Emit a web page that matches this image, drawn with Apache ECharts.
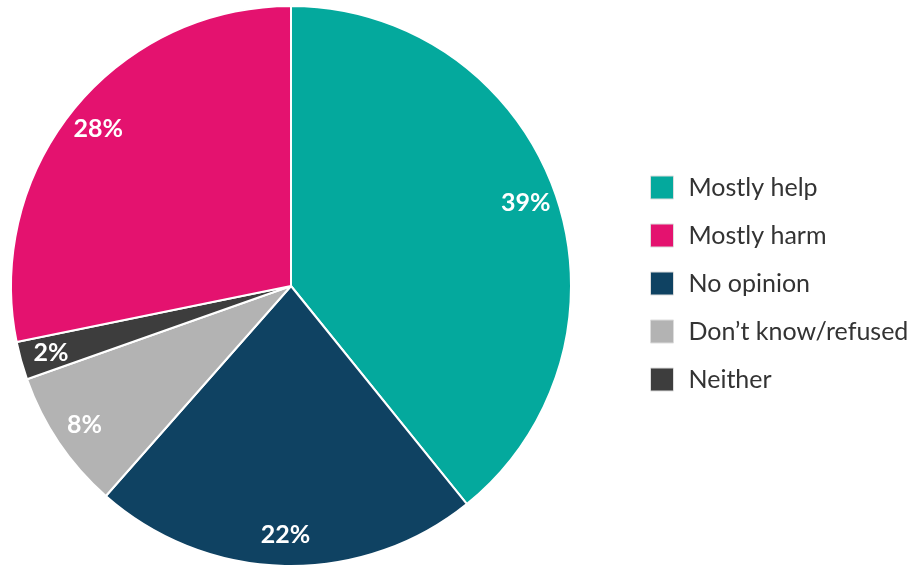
<!DOCTYPE html>
<html>
<head>
<meta charset="utf-8">
<script src="https://cdn.jsdelivr.net/npm/echarts@6/dist/echarts.min.js"></script>
<style>
html,body{margin:0;padding:0;background:#fff;}
#chart{width:917px;height:567px;}
</style>
</head>
<body>
<div id="chart"></div>
<script>
var categories = ['Mostly help', 'No opinion', "Don\u2019t know/refused", 'Neither', 'Mostly harm'];
var values = [39.2, 22.3, 8.1, 2.2, 28.2];
var colors = ['#04a99d', '#0f4262', '#b3b3b3', '#3d3d3d', '#e4126f'];
var legendOrder = ['Mostly help', 'Mostly harm', 'No opinion', "Don\u2019t know/refused", 'Neither'];

var font = 'Lato';
var data = categories.map(function (c, i) {
  return { name: c, value: values[i], itemStyle: { color: colors[i] } };
});
var labelData = categories.map(function (c, i) {
  return { name: c, value: values[i] };
});

var chart = echarts.init(document.getElementById('chart'));
chart.setOption({
  animation: false,
  legend: {
    orient: 'vertical',
    left: 650,
    top: 'middle',
    padding: 0,
    data: legendOrder,
    icon: 'rect',
    itemWidth: 23,
    itemHeight: 23,
    itemGap: 23,
    itemStyle: { borderColor: '#dddddd', borderWidth: 1 },
    textStyle: { fontFamily: font, fontSize: 25, color: '#333333', padding: [0, 0, 0, 10] }
  },
  series: [
    {
      type: 'pie',
      center: [291, 286],
      radius: [0, 280],
      startAngle: 90,
      clockwise: true,
      label: { show: false },
      labelLine: { show: false },
      itemStyle: { borderColor: '#ffffff', borderWidth: 2 },
      emphasis: { disabled: true },
      data: data
    },
    {
      type: 'pie',
      center: [291, 286],
      radius: [212, 280],
      startAngle: 90,
      clockwise: true,
      silent: true,
      itemStyle: { color: 'rgba(0,0,0,0)', borderWidth: 0 },
      label: {
        show: true,
        position: 'inside',
        formatter: function (p) { return Math.round(p.value) + '%'; },
        color: '#ffffff',
        fontFamily: font,
        fontWeight: 'bold',
        fontSize: 25
      },
      labelLine: { show: false },
      emphasis: { disabled: true },
      data: labelData
    }
  ]
});
</script>
</body>
</html>
